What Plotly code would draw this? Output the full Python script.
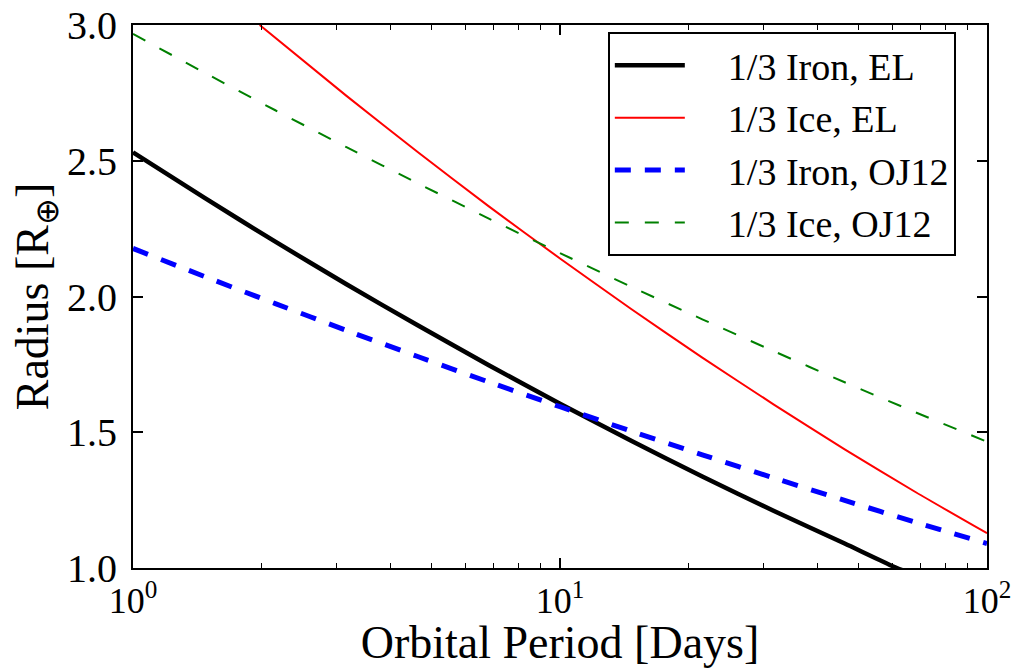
import plotly.graph_objects as go

# Data (periods evenly spaced in log10 P)
period = [1, 1.468, 2.154, 3.162, 4.642, 6.813, 10, 14.68, 21.54, 31.62, 46.42, 68.13, 100]

period_iron_el = [1, 1.468, 2.154, 3.162, 4.642, 6.813, 10, 14.68, 21.54, 31.62, 46.42, 61.5, 68.13]
iron_el = [2.531, 2.364, 2.202, 2.045, 1.894, 1.747, 1.605, 1.469, 1.337, 1.211, 1.090, 1.0, 0.974]

period_ice_el = [1.98, 3.162, 4.642, 6.813, 10, 14.68, 21.54, 31.62, 46.42, 68.13, 100]
ice_el = [3.0, 2.739, 2.532, 2.332, 2.140, 1.954, 1.775, 1.603, 1.437, 1.279, 1.128]

iron_oj12 = [2.177, 2.074, 1.974, 1.875, 1.779, 1.685, 1.594, 1.504, 1.417, 1.332, 1.249, 1.168, 1.090]
ice_oj12 = [2.967, 2.825, 2.686, 2.550, 2.417, 2.287, 2.160, 2.036, 1.916, 1.799, 1.684, 1.573, 1.465]

major_ticks = [1, 10, 100]
major_text = ["10<sup>0</sup>", "10<sup>1</sup>", "10<sup>2</sup>"]
y_ticks = [1.0, 1.5, 2.0, 2.5, 3.0]
y_text = ["1.0", "1.5", "2.0", "2.5", "3.0"]

FONT = "Liberation Serif"
PAD = "\u00a0\u00a0\u00a0\u00a0"

fig = go.Figure()
fig.add_trace(go.Scatter(x=period_iron_el, y=iron_el, mode="lines", name=PAD + "1/3 Iron, EL",
                         legendgroup="a", line=dict(color="black", width=4.5, shape="spline", smoothing=0.6)))
fig.add_trace(go.Scatter(x=period_ice_el, y=ice_el, mode="lines", name=PAD + "1/3 Ice, EL",
                         legendgroup="b", line=dict(color="#ff0000", width=2, shape="spline", smoothing=0.6)))
fig.add_trace(go.Scatter(x=period, y=iron_oj12, mode="lines", name=PAD + "1/3 Iron, OJ12",
                         legendgroup="c", line=dict(color="#0000ff", width=5, dash="16px,14px", shape="spline", smoothing=0.6)))
fig.add_trace(go.Scatter(x=period, y=ice_oj12, mode="lines", name=PAD + "1/3 Ice, OJ12",
                         legendgroup="d", line=dict(color="#008000", width=2, dash="14px,16px", shape="spline", smoothing=0.6)))

fig.update_layout(
    width=1018, height=668,
    margin=dict(l=133, r=31, t=25, b=100, autoexpand=False),
    paper_bgcolor="white", plot_bgcolor="white",
    font=dict(family=FONT, color="black"),
    showlegend=True,
    legend=dict(
        x=0.556, y=0.987, xanchor="left", yanchor="top",
        bordercolor="black", borderwidth=2, bgcolor="white",
        font=dict(family=FONT, size=38, color="black"),
        tracegroupgap=0, traceorder="grouped", itemwidth=70,
    ),
)

fig.update_xaxes(
    type="log", range=[0, 2], automargin=False,
    tickmode="array", tickvals=major_ticks, ticktext=major_text,
    ticks="inside", ticklen=10, tickwidth=1.5, tickcolor="black",
    minor=dict(dtick="D1", ticks="inside", ticklen=5, tickwidth=1.2, tickcolor="black", showgrid=False),
    showline=True, linecolor="black", linewidth=2, mirror="ticks",
    showgrid=False, zeroline=False,
    tickfont=dict(family=FONT, size=36, color="black"),
    title=dict(text="Orbital Period [Days]", font=dict(family=FONT, size=46, color="black"), standoff=12),
)
fig.update_yaxes(
    range=[1.0, 3.0], automargin=False,
    tickmode="array", tickvals=y_ticks, ticktext=y_text,
    ticks="inside", ticklen=10, tickwidth=1.5, tickcolor="black",
    showline=True, linecolor="black", linewidth=2, mirror="ticks",
    showgrid=False, zeroline=False,
    tickfont=dict(family=FONT, size=40, color="black"),
    ticklabelstandoff=6,
    title=dict(text="Radius [R<sub>⊕</sub>]", font=dict(family=FONT, size=46, color="black"), standoff=4),
)

fig.write_html("out.html")
